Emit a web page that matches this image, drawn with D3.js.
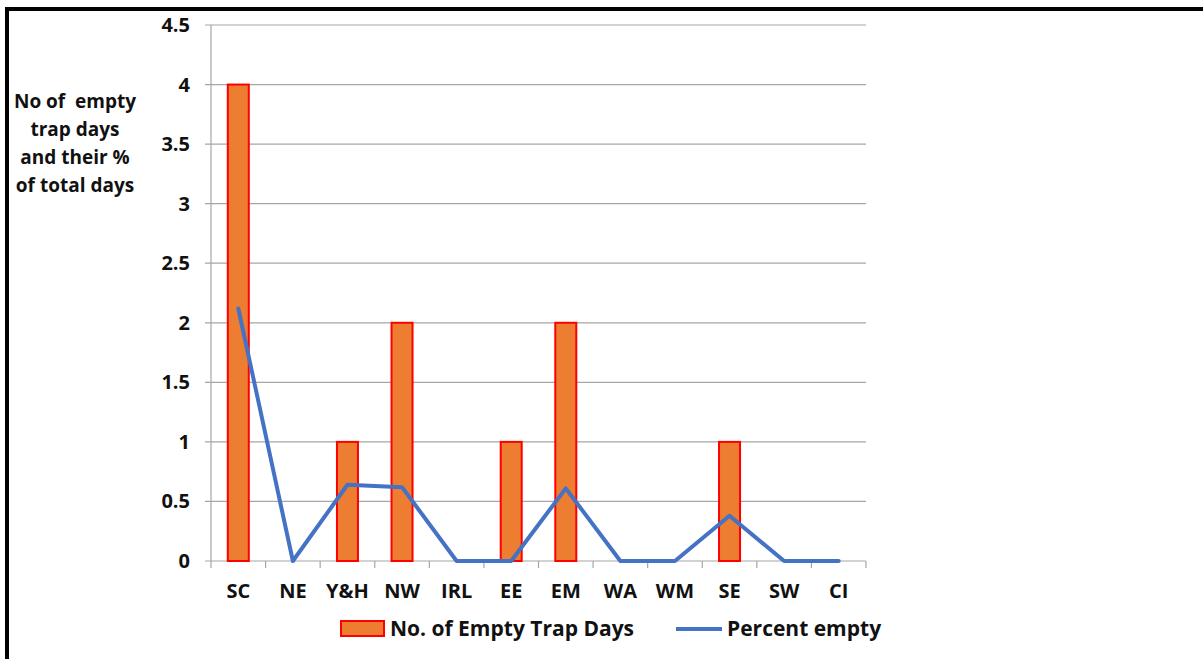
<!DOCTYPE html>
<html>
<head>
<meta charset="utf-8">
<script src="https://cdn.jsdelivr.net/npm/d3@7"></script>
<style>
  html, body { margin: 0; padding: 0; background: #fff; }
  svg text { font-family: "Open Sans", "Liberation Sans", sans-serif; font-weight: bold; fill: #111; }
</style>
</head>
<body>
<svg id="chart" width="1203" height="659"></svg>
<script>
// Regions along the x axis
const categories = ["SC", "NE", "Y&H", "NW", "IRL", "EE", "EM", "WA", "WM", "SE", "SW", "CI"];
// Number of empty trap days per region
const emptyDays = [4, 0, 1, 2, 0, 1, 2, 0, 0, 1, 0, 0];
// Percentage of days that were empty per region
const percentEmpty = [2.12, 0, 0.64, 0.62, 0, 0, 0.61, 0, 0, 0.38, 0, 0];
// Y axis ticks
const yTicks = [0, 0.5, 1, 1.5, 2, 2.5, 3, 3.5, 4, 4.5];
const yTitle = ["No of  empty", "trap days", "and their %", "of total days"];
const seriesNames = ["No. of Empty Trap Days", "Percent empty"];

const svg = d3.select("#chart");
const W = 1203, H = 659;
const plot = { left: 211, right: 866, top: 25, bottom: 561 };

// outer frame (left and top edges)
svg.append("rect").attr("x", 5).attr("y", 7).attr("width", 4).attr("height", H - 7).attr("fill", "#000");
svg.append("rect").attr("x", 5).attr("y", 7).attr("width", W - 5).attr("height", 4).attr("fill", "#000");

const x = d3.scaleBand().domain(categories).range([plot.left, plot.right]);
const y = d3.scaleLinear().domain([0, 4.5]).range([plot.bottom, plot.top]);

// horizontal gridlines
svg.append("g").selectAll("line").data(yTicks).join("line")
  .attr("x1", plot.left - 6).attr("x2", plot.right)
  .attr("y1", d => y(d)).attr("y2", d => y(d))
  .attr("stroke", "#a6a6a6").attr("stroke-width", 1.2);

// y axis line
svg.append("line").attr("x1", plot.left).attr("x2", plot.left)
  .attr("y1", plot.top).attr("y2", plot.bottom)
  .attr("stroke", "#a6a6a6").attr("stroke-width", 1.2);

// y tick labels
svg.append("g").selectAll("text").data(yTicks).join("text")
  .attr("x", 190).attr("y", d => y(d)).attr("dy", "0.35em")
  .attr("text-anchor", "end").attr("font-size", 20)
  .text(d => d3.format("~g")(d));

// x category tick marks
const bounds = categories.map(c => x(c)).concat([plot.right]);
svg.append("g").selectAll("line").data(bounds).join("line")
  .attr("x1", d => d).attr("x2", d => d)
  .attr("y1", plot.bottom).attr("y2", plot.bottom + 7)
  .attr("stroke", "#a6a6a6").attr("stroke-width", 1.2);

// x labels
svg.append("g").selectAll("text").data(categories).join("text")
  .attr("x", d => x(d) + x.bandwidth() / 2).attr("y", 591)
  .attr("dy", "0.35em").attr("text-anchor", "middle").attr("font-size", 20)
  .text(d => d);

// bars
const barW = 21;
svg.append("g").selectAll("rect").data(emptyDays.map((v, i) => ({ c: categories[i], v })).filter(d => d.v > 0))
  .join("rect")
  .attr("x", d => x(d.c) + x.bandwidth() / 2 - barW / 2)
  .attr("y", d => y(d.v))
  .attr("width", barW)
  .attr("height", d => y(0) - y(d.v))
  .attr("fill", "#ED7D31").attr("stroke", "#FF0000").attr("stroke-width", 2);

// percent line
const line = d3.line()
  .x((d, i) => x(categories[i]) + x.bandwidth() / 2)
  .y(d => y(d));
svg.append("path").datum(percentEmpty).attr("d", line)
  .attr("fill", "none").attr("stroke", "#4472C4").attr("stroke-width", 4)
  .attr("stroke-linejoin", "round").attr("stroke-linecap", "round");

// y axis title
svg.append("text").attr("x", 75).attr("y", 101).attr("text-anchor", "middle")
  .attr("font-size", 19).style("white-space", "pre")
  .selectAll("tspan").data(yTitle).join("tspan")
  .attr("x", 75).attr("dy", (d, i) => i === 0 ? "0.35em" : 28).text(d => d);

// legend
const lg = svg.append("g");
lg.append("rect").attr("x", 341).attr("y", 621).attr("width", 43).attr("height", 15)
  .attr("fill", "#ED7D31").attr("stroke", "#FF0000").attr("stroke-width", 2);
lg.append("text").attr("x", 390).attr("y", 629).attr("dy", "0.35em").attr("font-size", 21).text(seriesNames[0]);
lg.append("line").attr("x1", 676).attr("x2", 722).attr("y1", 629).attr("y2", 629)
  .attr("stroke", "#4472C4").attr("stroke-width", 4);
lg.append("text").attr("x", 727).attr("y", 629).attr("dy", "0.35em").attr("font-size", 21).text(seriesNames[1]);
</script>
</body>
</html>
